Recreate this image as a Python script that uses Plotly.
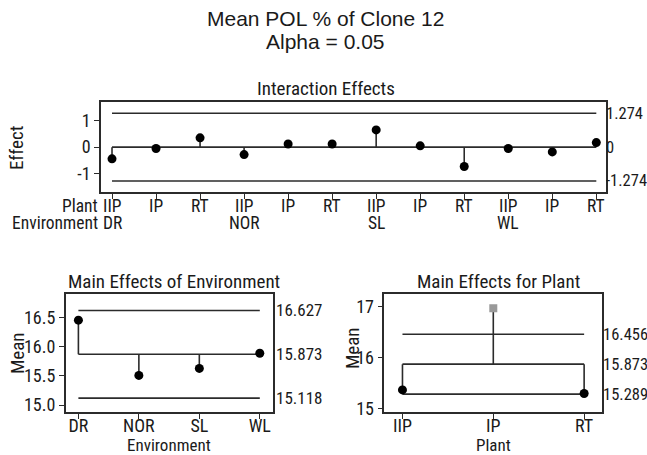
import plotly.graph_objects as go

W, H = 647, 455

# ---------------- data ----------------
plants = ["IIP", "IP", "RT"]
environments = ["DR", "NOR", "SL", "WL"]

interaction_effects = [-0.44, -0.05, 0.35,
                       -0.28, 0.12, 0.12,
                       0.65, 0.05, -0.73,
                       -0.05, -0.18, 0.17]
interaction_center = 0.0
interaction_limit = 1.274

env_means = [16.46, 15.51, 15.63, 15.89]
env_center = 15.873
env_upper = 16.627
env_lower = 15.118

plant_means = [15.37, 16.96, 15.30]
plant_center = 15.873
plant_upper = 16.456
plant_lower = 15.289

title_line1 = "Mean POL % of Clone 12"
title_line2 = "Alpha = 0.05"

# ---------------- styling ----------------
NARROW = "Roboto Condensed, Liberation Sans Narrow, Arial Narrow, sans-serif"
REGULAR = "Liberation Sans, Arial, sans-serif"
INK = "#2b2b2b"
TXT = "#1a1a1a"
LINE_W = 1.6


def px_x(p):
    return p / W


def px_y(p):
    return 1 - p / H


fig = go.Figure()


def add_panel(xa, ya, values, center, lo, hi):
    n = len(values)
    xs = list(range(n))
    for lim in (lo, hi):
        fig.add_trace(go.Scatter(x=[xs[0], xs[-1]], y=[lim, lim], mode="lines",
                                 line=dict(color=INK, width=LINE_W),
                                 xaxis=xa, yaxis=ya, hoverinfo="skip", showlegend=False))
    fig.add_trace(go.Scatter(x=[xs[0], xs[-1]], y=[center, center], mode="lines",
                             line=dict(color=INK, width=LINE_W),
                             xaxis=xa, yaxis=ya, hoverinfo="skip", showlegend=False))
    sx, sy = [], []
    for i, v in zip(xs, values):
        sx += [i, i, None]
        sy += [center, v, None]
    fig.add_trace(go.Scatter(x=sx, y=sy, mode="lines",
                             line=dict(color=INK, width=LINE_W),
                             xaxis=xa, yaxis=ya, hoverinfo="skip", showlegend=False))
    out = [(v > hi or v < lo) for v in values]
    fig.add_trace(go.Scatter(
        x=xs, y=values, mode="markers",
        marker=dict(symbol=["square" if o else "circle" for o in out],
                    color=["#999999" if o else "#000000" for o in out],
                    size=[8 if o else 9 for o in out], opacity=1,
                    line=dict(width=0)),
        xaxis=xa, yaxis=ya, showlegend=False))


add_panel("x", "y", interaction_effects, interaction_center,
          -interaction_limit, interaction_limit)
add_panel("x2", "y2", env_means, env_center, env_lower, env_upper)
add_panel("x3", "y3", plant_means, plant_center, plant_lower, plant_upper)

axis_common = dict(showline=True, mirror=True, linecolor=INK, linewidth=1.5,
                   showgrid=False, zeroline=False, ticks="outside", ticklen=5,
                   tickwidth=1.2, tickcolor=INK, automargin=False,
                   tickfont=dict(family=NARROW, size=18, color=TXT))

top_x = (101, 606)
top_y = (102, 192)
fig.update_layout(
    xaxis=dict(domain=[px_x(top_x[0]), px_x(top_x[1])], range=[-0.25, 11.22],
               tickvals=list(range(len(interaction_effects))), showticklabels=False,
               anchor="y", **axis_common),
    yaxis=dict(domain=[px_y(top_y[1]), px_y(top_y[0])], range=[-1.69, 1.70],
               tickvals=[-1, 0, 1], ticktext=["-1", "0", "1"], anchor="x",
               **axis_common),
)

bl_x = (65.7, 272.5)
bot_y = (294, 412)
fig.update_layout(
    xaxis2=dict(domain=[px_x(bl_x[0]), px_x(bl_x[1])], range=[-0.21, 3.21],
                tickvals=list(range(len(environments))), ticktext=environments,
                ticklabelstandoff=-8, anchor="y2", **axis_common),
    yaxis2=dict(domain=[px_y(bot_y[1]), px_y(bot_y[0])], range=[14.88, 16.91],
                tickvals=[15.0, 15.5, 16.0, 16.5],
                ticktext=["15.0", "15.5", "16.0", "16.5"], anchor="x2",
                **axis_common),
)

br_x = (384.3, 602.3)
fig.update_layout(
    xaxis3=dict(domain=[px_x(br_x[0]), px_x(br_x[1])], range=[-0.2, 2.2],
                tickvals=list(range(len(plants))), ticktext=plants,
                ticklabelstandoff=-8, anchor="y3", **axis_common),
    yaxis3=dict(domain=[px_y(bot_y[1]), px_y(bot_y[0])], range=[14.94, 17.24],
                tickvals=[15, 16, 17], ticktext=["15", "16", "17"], anchor="x3",
                **axis_common),
)

ann = []


def text(t, x, y, size=18, family=NARROW, xanchor="center", xref="paper",
         yref="paper", angle=0, yanchor="middle"):
    ann.append(dict(text=t, x=x, y=y, xref=xref, yref=yref, xanchor=xanchor,
                    yanchor=yanchor, showarrow=False, textangle=angle, borderpad=0,
                    font=dict(family=family, size=size, color=TXT)))


text(title_line1, px_x(325), px_y(19), size=21, family=REGULAR)
text(title_line2, px_x(325), px_y(41), size=21, family=REGULAR)

text("Interaction Effects", px_x(326), px_y(88.5), size=19)
text("Main Effects of Environment", px_x(174), px_y(281.5), size=19)
text("Main Effects for Plant", px_x(498), px_y(281.5), size=19)

text("Plant", px_x(99), px_y(206.5), xanchor="right", size=17.5)
text("Environment", px_x(99), px_y(223), xanchor="right", size=17.5)
for i in range(len(interaction_effects)):
    text(plants[i % len(plants)], i, px_y(206.5), xref="x", size=17.5)
for j, env in enumerate(environments):
    text(env, j * len(plants), px_y(223), xref="x", size=17.5)

text("Effect", px_x(17), px_y(148), angle=-90, size=19)
text("Mean", px_x(17), px_y(353), angle=-90, size=19)
text("Mean", px_x(352), px_y(348), angle=-90, size=19)
text("Environment", px_x(169), px_y(445), size=17)
text("Plant", px_x(493.5), px_y(445), size=17)

for v, s in [(interaction_limit, "1.274"), (interaction_center, "0"),
             (-interaction_limit, "-1.274")]:
    text(s, px_x(605), v, xanchor="left", yref="y", size=16.5)
for v in (env_upper, env_center, env_lower):
    text(f"{v:.3f}", px_x(275), v, xanchor="left", yref="y2", size=17)
for v in (plant_upper, plant_center, plant_lower):
    text(f"{v:.3f}", px_x(602), v, xanchor="left", yref="y3", size=16.5)

fig.update_layout(
    annotations=ann,
    width=W, height=H,
    margin=dict(l=0, r=0, t=0, b=0, pad=0),
    paper_bgcolor="white", plot_bgcolor="white",
    showlegend=False,
    font=dict(family=NARROW, color=TXT),
)

fig.write_html("out.html", config={"displayModeBar": False},
               post_script="document.body.style.margin='0px';")
